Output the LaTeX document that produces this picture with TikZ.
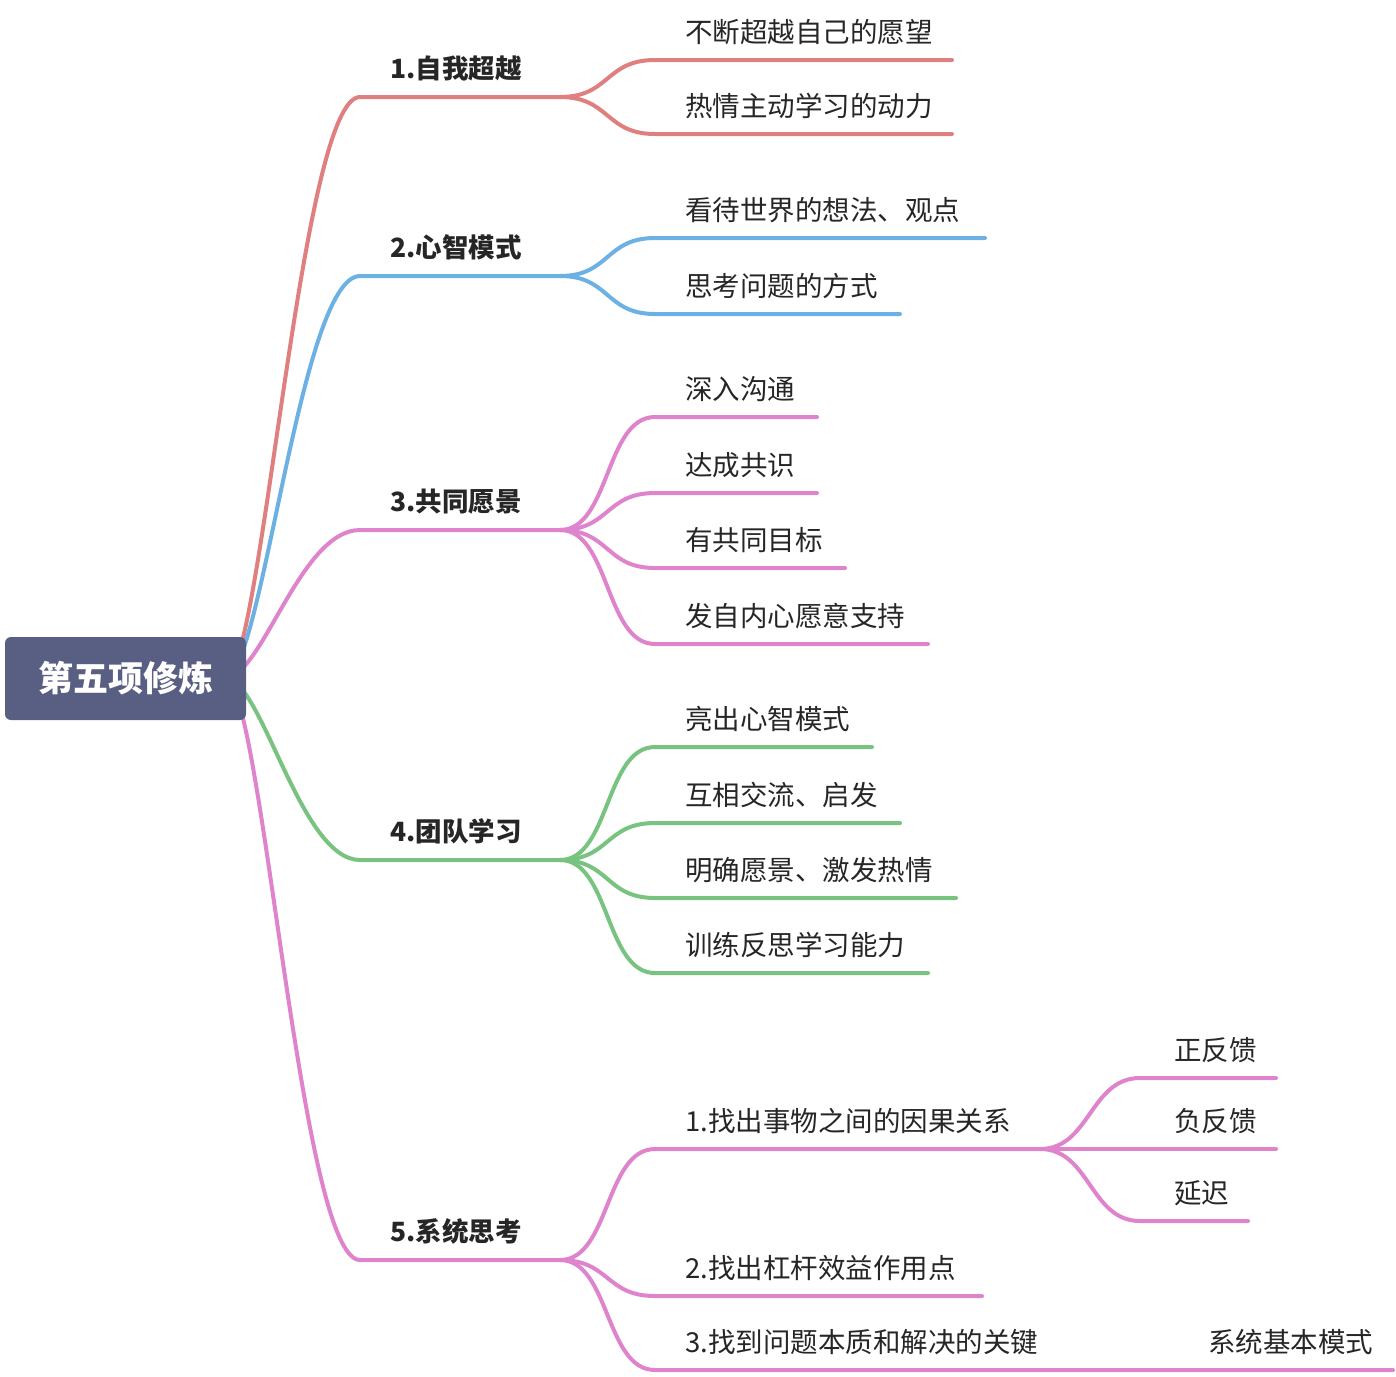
\documentclass[tikz,border=0pt]{standalone}
\usepackage{fontspec}
\newfontfamily\cjk{Noto Sans CJK SC}
\definecolor{cRed}{HTML}{E07F7F}
\definecolor{cBlue}{HTML}{6CB1E3}
\definecolor{cPink}{HTML}{DF84CC}
\definecolor{cGreen}{HTML}{77C37F}
\definecolor{cRoot}{HTML}{585F83}
\begin{document}
\begin{tikzpicture}[x=1pt,y=-1pt,
  branch/.style={line width=4pt,line cap=round},
  leaf/.style={anchor=south west,inner sep=0pt,font=\cjk\fontsize{27.5}{27.5}\selectfont,text=black!85},
  topic/.style={anchor=south west,inner sep=0pt,font=\cjk\bfseries\fontsize{26.5}{26.5}\selectfont,text=black!85}]
\useasboundingbox (0,0) rectangle (1396,1376);
\coordinate (rootout) at (225,678);
% level 1: y, colour, label
\foreach \y/\c/\t/\n in {97/cRed/1.自我超越/a,276/cBlue/2.心智模式/b,530/cPink/3.共同愿景/c,860/cGreen/4.团队学习/d,1260/cPink/5.系统思考/e}{
  \coordinate (\n0) at (360,\y);
  \coordinate (\n1) at (560,\y);
  \draw[branch,\c] (rootout) .. controls (262,678) and (300,\y) .. (\n0) -- (\n1);
  \node[topic] (\n) at (390,\y-16) {\t};
}
% level 2: parent, y, end, colour, label
\foreach \p/\y/\e/\c/\t in {a/60/952/cRed/不断超越自己的愿望, a/134/952/cRed/热情主动学习的动力,
  b/238/985/cBlue/看待世界的想法、观点, b/314/900/cBlue/思考问题的方式,
  c/417/817/cPink/深入沟通, c/493/817/cPink/达成共识, c/568/845/cPink/有共同目标, c/644/928/cPink/发自内心愿意支持,
  d/747/872/cGreen/亮出心智模式, d/823/900/cGreen/互相交流、启发, d/898/956/cGreen/明确愿景、激发热情, d/973/928/cGreen/训练反思学习能力,
  e/1149/1040/cPink/1.找出事物之间的因果关系, e/1296/982/cPink/2.找出杠杆效益作用点, e/1370/1393/cPink/3.找到问题本质和解决的关键}{
  \coordinate (s) at (655,\y);
  \draw[branch,\c] (\p1) .. controls +(50,0) and (605,\y) .. (s) -- (\e,\y);
  \node[leaf] at (685,\y-15) {\t};
}
\node[leaf] (sysmode) at (1208,1355) {系统基本模式};
% level 3
\coordinate (f1) at (1040,1149);
\foreach \y/\e/\t in {1078/1276/正反馈,1149/1276/负反馈,1221/1248/延迟}{
  \draw[branch,cPink] (f1) .. controls (1090,1149) and (1090,\y) .. (1140,\y) -- (\e,\y);
  \node[leaf] at (1174,\y-15) {\t};
}
\node[fill=cRoot,rounded corners=6pt,minimum width=241pt,minimum height=83pt,
  text=white,font=\cjk\bfseries\fontsize{35}{35}\selectfont] (root) at (125.5,678.5) {第五项修炼};
\end{tikzpicture}
\end{document}
